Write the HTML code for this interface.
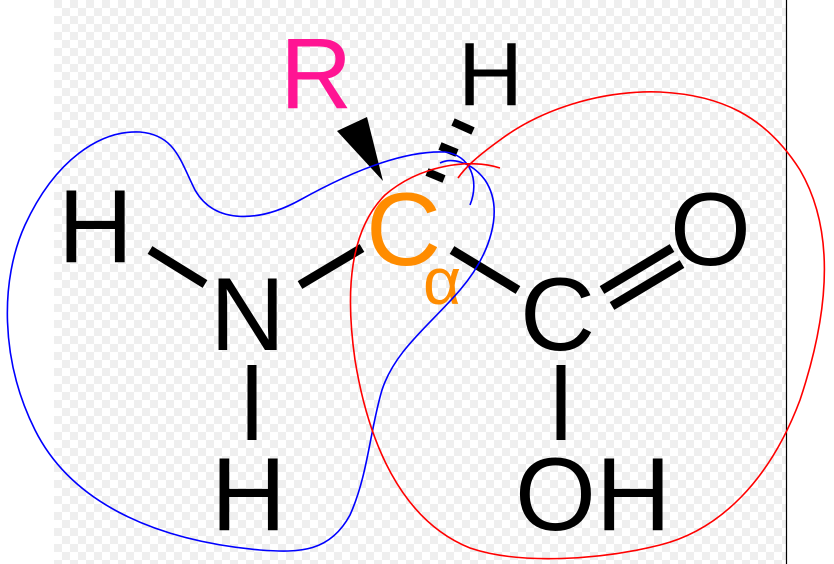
<!DOCTYPE html>
<html><head><meta charset="utf-8"><style>
html,body{margin:0;padding:0;background:#fff;}
svg{display:block}
text{font-family:"Liberation Sans",Arial,sans-serif;}
</style></head><body>
<svg width="834" height="564" viewBox="0 0 834 564" xmlns="http://www.w3.org/2000/svg">
<defs>
<pattern id="ck" x="54" y="0" width="16" height="16" patternUnits="userSpaceOnUse">
<rect width="16" height="16" fill="#fff"/>
<rect width="8" height="8" fill="#efefef"/>
<rect x="8" y="8" width="8" height="8" fill="#efefef"/>
</pattern>
</defs>
<rect x="54" y="0" width="732" height="564" fill="url(#ck)"/>
<line x1="786.5" y1="0" x2="786.5" y2="564" stroke="#000" stroke-width="1.2"/>

<g stroke="#000" stroke-width="9" stroke-linecap="butt">
<line x1="150" y1="250" x2="205" y2="284"/>
<line x1="300" y1="285" x2="362" y2="248"/>
<line x1="252" y1="365" x2="252" y2="440"/>
<line x1="452" y1="250" x2="518" y2="290"/>
<line x1="561" y1="365" x2="561" y2="440"/>
<line x1="602" y1="290" x2="672" y2="248"/>
<line x1="612" y1="306" x2="682" y2="264"/>
<line x1="453" y1="122" x2="473" y2="131" stroke-width="8"/>
<line x1="440" y1="146" x2="457" y2="153" stroke-width="8"/>
<line x1="427" y1="172" x2="444" y2="179" stroke-width="8"/>
</g>
<polygon points="337,131 367,117 383,181" fill="#000"/>

<text x="280" y="108" font-size="100" fill="#ff1493">R</text>
<text x="458" y="105" font-size="90" fill="#000">H</text>
<text x="58" y="262" font-size="104" fill="#000">H</text>
<text x="210" y="350" font-size="104" fill="#000">N</text>
<text x="211" y="530" font-size="104" fill="#000">H</text>
<text x="366" y="265" font-size="104" fill="#ff8c00">C</text>
<text x="423" y="304" font-size="66" fill="#ff8c00" font-family="Liberation Serif, serif">α</text>
<text x="520" y="350" font-size="104" fill="#000">C</text>
<text x="670" y="265" font-size="104" fill="#000">O</text>
<text x="515" y="530" font-size="104" fill="#000">OH</text>

<path d="M470,205 C480,180 470,155 445,152 C400,150 345,175 300,200 C260,222 215,225 195,190 C180,160 175,135 140,132 C100,130 55,160 25,225 C0,280 0,360 35,430 C70,500 150,540 260,550 C300,553 330,552 350,515 C368,475 370,430 382,390 C395,350 430,325 460,290 C490,255 505,210 485,180 C470,160 450,158 440,163"
 fill="none" stroke="#0000ff" stroke-width="1.6"/>

<path d="M500,168 C470,158 420,165 385,195 C350,230 345,290 355,360 C368,440 400,520 470,548 C520,565 600,560 660,545 C720,530 770,480 800,400 C830,310 835,230 800,170 C765,115 720,95 660,92 C600,90 540,110 500,140 C475,158 465,168 458,178"
 fill="none" stroke="#ff0000" stroke-width="1.6"/>
</svg>
</body></html>
